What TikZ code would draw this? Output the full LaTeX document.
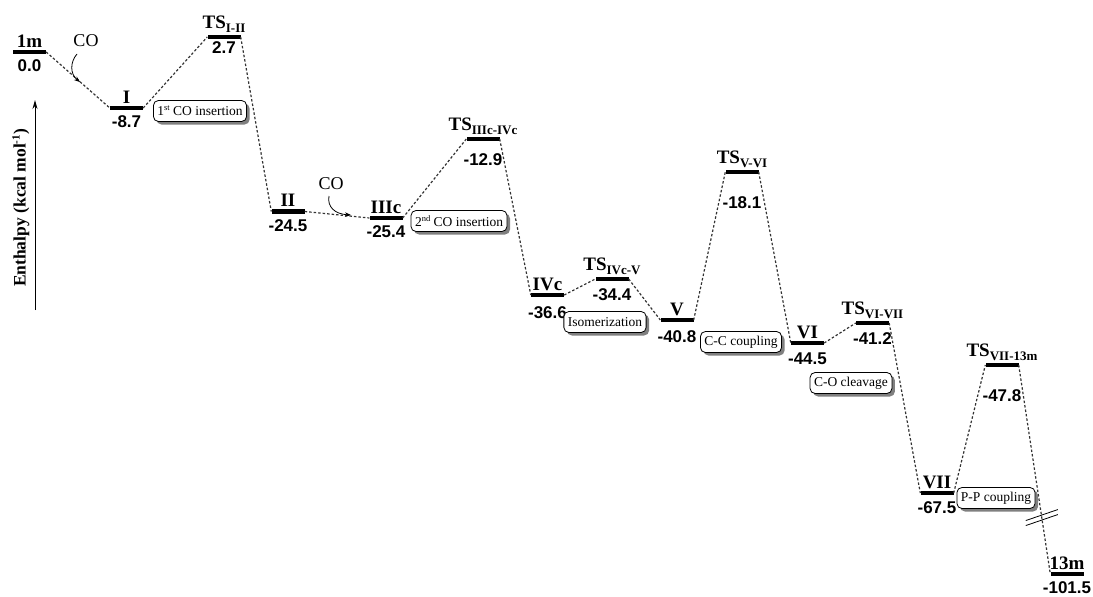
\documentclass[tikz,border=0pt]{standalone}
\usepackage{fontspec}
\setmainfont{Liberation Serif}
\newfontfamily\valfont{Liberation Sans}
\usetikzlibrary{arrows.meta,shadows,calc}
\newcommand\tsub[1]{\raisebox{-3.8pt}{\fontsize{13}{13}\selectfont #1}}
\newcommand\sups[1]{\raisebox{5pt}{\fontsize{8.5}{8.5}\selectfont #1}}
\newcommand\axsup[1]{\raisebox{6pt}{\fontsize{11}{11}\selectfont #1}}
\newcommand\lev[6]{%
  \node[bar] (b#1) at (#2,#3) {};
  \node[lab,anchor=south] (l#1) at ([yshift=2pt]b#1.north) {#4};
  \node[val,anchor=north] (v#1) at ([yshift=-#6pt]b#1.south) {#5};}
\begin{document}
\begin{tikzpicture}[x=1pt,y=-1pt,
  bar/.style={fill=black,minimum width=33pt,minimum height=4.5pt,inner sep=0pt},
  lab/.style={font=\fontsize{19}{19}\selectfont\bfseries,inner sep=0pt},
  val/.style={font=\valfont\fontsize{17}{17}\selectfont\bfseries,inner sep=0pt},
  conn/.style={draw=black!80,line width=1.2pt,dash pattern=on 2.5pt off 2pt},
  stepbox/.style={draw,rounded corners=5pt,line width=0.8pt,fill=white,
    font=\fontsize{13.5}{13.5}\selectfont,minimum height=21pt,inner xsep=4pt,inner ysep=0pt,
    drop shadow={shadow xshift=3pt,shadow yshift=-3pt,fill=black!50,opacity=1}},
  coarrow/.style={-{Stealth[length=6pt,width=4.5pt]},line width=0.8pt},
  cotext/.style={font=\fontsize{18}{18}\selectfont,inner sep=0pt},
]
\useasboundingbox (0,0) rectangle (1093,597);

% levels
\lev{1m}{29.5}{52}{1m}{0.0}{5}
\lev{I}{126.5}{108}{I}{-8.7}{5}
\lev{TSa}{224}{37}{TS\tsub{I-II}}{2.7}{2}
\lev{II}{288}{211.5}{II}{-24.5}{5}
\lev{IIIc}{386}{218}{IIIc}{-25.4}{5}
\lev{TSb}{483}{139}{TS\tsub{IIIc-IVc}}{-12.9}{12}
\lev{IVc}{547.5}{295}{IVc}{-36.6}{9}
\lev{TSc}{612}{279}{TS\tsub{IVc-V}}{-34.4}{7}
\lev{V}{677}{320}{V}{-40.8}{8}
\lev{TSd}{742}{172}{TS\tsub{V-VI}}{-18.1}{22}
\lev{VI}{807.5}{343}{VI}{-44.5}{7}
\lev{TSe}{872.5}{323}{TS\tsub{VI-VII}}{-41.2}{7}
\lev{VII}{937}{493}{VII}{-67.5}{6}
\lev{TSf}{1002}{365}{TS\tsub{VII-13m}}{-47.8}{22}
\lev{13m}{1067}{574}{13m}{-101.5}{5}

% connectors
\draw[conn] (b1m.east) -- (bI.west);
\draw[conn] (bI.east) -- (bTSa.west);
\draw[conn] (bTSa.east) -- (bII.west);
\draw[conn] (bII.east) -- (bIIIc.west);
\draw[conn] (bIIIc.east) -- (bTSb.west);
\draw[conn] (bTSb.east) -- (bIVc.west);
\draw[conn] (bIVc.east) -- (bTSc.west);
\draw[conn] (bTSc.east) -- (bV.west);
\draw[conn] (bV.east) -- (bTSd.west);
\draw[conn] (bTSd.east) -- (bVI.west);
\draw[conn] (bVI.east) -- (bTSe.west);
\draw[conn] (bTSe.east) -- (bVII.west);
\draw[conn] (bVII.east) -- (bTSf.west);
\draw[conn] (bTSf.east) -- (b13m.west);

% break mark
\path (bTSf.east) -- (b13m.west) coordinate[pos=0.73] (brk);
\draw[line width=0.8pt] ([yshift=2.5pt]brk) +(-16,5.5) -- +(16,-5.5);
\draw[line width=0.8pt] ([yshift=-2.5pt]brk) +(-16,5.5) -- +(16,-5.5);

% step boxes
\node[stepbox] (box1) at (200,111) {1\sups{st} CO insertion};
\node[stepbox] (box2) at (459,221) {2\sups{nd} CO insertion};
\node[stepbox] (box3) at (605,322) {Isomerization};
\node[stepbox] (box4) at (741,342) {C-C coupling};
\node[stepbox] (box5) at (851,383) {C-O cleavage};
\node[stepbox] (box6) at (996,498) {P-P coupling};

% CO additions
\node[cotext] (co1) at (86,41) {CO};
\coordinate (co1s) at (77,54);
\coordinate (co1e) at (80,82);
\draw[coarrow] (co1s) .. controls (70,62) and (70,74) .. (co1e);
\node[cotext] (co2) at (331,184) {CO};
\coordinate (co2s) at (329,196);
\coordinate (co2e) at (351,215);
\draw[coarrow] (co2s) .. controls (327,207) and (335,214) .. (co2e);

% axis
\coordinate (ax0) at (35,310);
\coordinate (ax1) at (35,100);
\draw[-{Stealth[length=9pt,width=5pt]},line width=1pt] (ax0) -- (ax1);
\node[rotate=90,inner sep=0pt,font=\fontsize{17.5}{17.5}\selectfont\bfseries] (axl) at (21,208) {Enthalpy (kcal mol\axsup{-1})};
\end{tikzpicture}
\end{document}
